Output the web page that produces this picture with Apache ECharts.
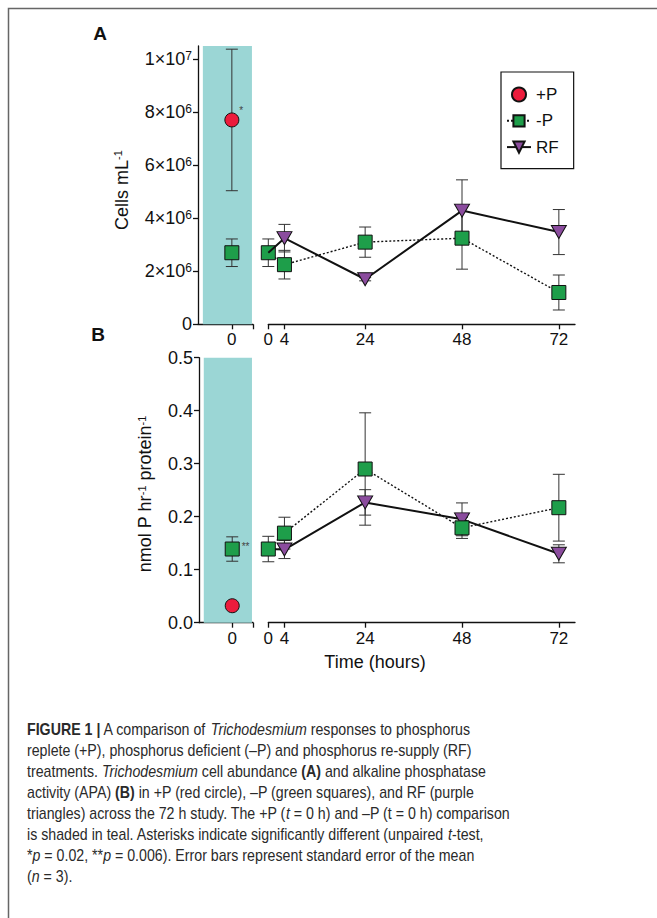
<!DOCTYPE html>
<html>
<head>
<meta charset="utf-8">
<script src="https://cdn.jsdelivr.net/npm/echarts@6/dist/echarts.min.js"></script>
<style>
html, body { margin: 0; padding: 0; background: #fff; }
#main { width: 657px; height: 918px; }
</style>
</head>
<body>
<div id="main"></div>
<script>
// time points (hours)
var ctrlTime = [0];
var hours = [0, 4, 24, 48, 72];
var hourTicks = [0, 4, 24, 48, 72];

// panel A: cells per mL (mean and standard error)
var cellsTicks = [0, 2e6, 4e6, 6e6, 8e6, 1e7];
var cellsPlusP = [7.71e6];
var cellsPlusPSe = [2.67e6];
var cellsMinusP0 = [2.70e6];
var cellsMinusP0Se = [0.52e6];
var cellsMinusP = [2.70e6, 2.25e6, 3.10e6, 3.25e6, 1.20e6];
var cellsMinusPSe = [0.52e6, 0.54e6, 0.57e6, 1.17e6, 0.66e6];
var cellsRF = [2.70e6, 3.25e6, 1.70e6, 4.29e6, 3.48e6];
var cellsRFSe = [null, 0.52e6, 0.06e6, 1.16e6, 0.85e6];

// panel B: nmol P hr-1 protein-1 (mean and standard error)
var apaTicks = [0, 0.1, 0.2, 0.3, 0.4, 0.5];
var apaPlusP = [0.032];
var apaPlusPSe = [0.004];
var apaMinusP0 = [0.139];
var apaMinusP0Se = [0.023];
var apaMinusP = [0.139, 0.169, 0.290, 0.179, 0.217];
var apaMinusPSe = [0.024, 0.030, 0.106, 0.020, 0.063];
var apaRF = [0.139, 0.138, 0.227, 0.195, 0.130];
var apaRFSe = [null, 0.017, 0.024, 0.031, 0.017];

var captionLines = [
    '{b|FIGURE 1 |} A comparison of {i|Trichodesmium} responses to phosphorus',
    'replete (+P), phosphorus deficient (\u2013P) and phosphorus re-supply (RF)',
    'treatments. {i|Trichodesmium} cell abundance {b|(A)} and alkaline phosphatase',
    'activity (APA) {b|(B)} in +P (red circle), \u2013P (green squares), and RF (purple',
    'triangles) across the 72 h study. The +P ({i|t} = 0 h) and \u2013P (t = 0 h) comparison',
    'is shaded in teal. Asterisks indicate significantly different (unpaired {i|t}-test,',
    '*{i|p} = 0.02, **{i|p} = 0.006). Error bars represent standard error of the mean',
    '({i|n} = 3).'
];

var RED = '#EC1C3C', GREEN = '#1E9E4A', PURPLE = '#8B4C9E', TEAL = '#9BD6D5', INK = '#111';
var FONT = 'Liberation Sans';

function pts(xs, ys) {
    var out = [];
    for (var i = 0; i < xs.length; i++) out.push([xs[i], ys[i]]);
    return out;
}
function errs(xs, ys, se) {
    var out = [];
    for (var i = 0; i < xs.length; i++) {
        if (se[i] == null) continue;
        out.push([xs[i], ys[i] - se[i], ys[i] + se[i]]);
    }
    return out;
}
function rfPts(xs, ys) {
    // first RF point is the -P t=0 value, drawn without a marker
    var out = [];
    for (var i = 0; i < xs.length; i++) {
        out.push(i === 0 ? { value: [xs[i], ys[i]], symbol: 'none' } : [xs[i], ys[i]]);
    }
    return out;
}

function errRender(params, api) {
    var x = api.value(0);
    var top = api.coord([x, api.value(2)]);
    var bot = api.coord([x, api.value(1)]);
    var w = 6;
    var st = { stroke: '#333', lineWidth: 1 };
    return {
        type: 'group',
        children: [
            { type: 'line', shape: { x1: top[0], y1: top[1], x2: bot[0], y2: bot[1] }, style: st },
            { type: 'line', shape: { x1: top[0] - w, y1: top[1], x2: top[0] + w, y2: top[1] }, style: st },
            { type: 'line', shape: { x1: bot[0] - w, y1: bot[1], x2: bot[0] + w, y2: bot[1] }, style: st }
        ]
    };
}

function errSeries(xi, data) {
    return {
        type: 'custom', xAxisIndex: xi, yAxisIndex: xi, renderItem: errRender,
        data: data, encode: { x: 0, y: [1, 2] }, z: 1, silent: true, clip: false
    };
}

function sciLabel(v) {
    if (v === 0) return '0';
    var e = Math.floor(Math.log10(v) + 1e-9);
    var m = Math.round(v / Math.pow(10, e));
    return m + '\u00d710{sup|' + e + '}';
}

var lineAx = { show: true, onZero: false, lineStyle: { color: INK, width: 1.3 } };
var tickSt = { color: INK, width: 1.3 };
var lblSt = { fontSize: 17, color: INK, fontFamily: FONT };
var ylblSt = { fontSize: 18, color: INK, fontFamily: FONT };
var mark = function (c) { return { color: c, borderColor: INK, borderWidth: 1, opacity: 1 }; };

function xSeg1(gi) {
    return {
        gridIndex: gi, type: 'value', min: -1.6, max: 1,
        axisLine: lineAx,
        axisTick: { show: true, length: 5, lineStyle: tickSt, customValues: [0, 1] },
        axisLabel: Object.assign({ customValues: ctrlTime, margin: 7 }, lblSt),
        splitLine: { show: false }
    };
}
function xSeg2(gi) {
    return {
        gridIndex: gi, type: 'value', min: 0, max: 76,
        axisLine: lineAx,
        axisTick: { show: true, length: 5, lineStyle: tickSt, customValues: hourTicks },
        axisLabel: Object.assign({ customValues: hourTicks, margin: 7 }, lblSt),
        splitLine: { show: false }
    };
}

var chart = echarts.init(document.getElementById('main'), null, { renderer: 'svg' });

chart.setOption({
    backgroundColor: '#fff',
    animation: false,
    textStyle: { fontFamily: FONT },
    grid: [
        { left: 198, top: 46, width: 55, height: 278.3 },
        { left: 268.3, top: 46, width: 306.7, height: 278.3 },
        { left: 199, top: 357.7, width: 54, height: 265 },
        { left: 268.3, top: 357.7, width: 306.7, height: 265 }
    ],
    xAxis: [xSeg1(0), xSeg2(1), xSeg1(2), xSeg2(3)],
    yAxis: [
        {
            gridIndex: 0, type: 'value', min: 0, max: 1.05e7,
            axisLine: lineAx,
            axisTick: { show: true, length: 5, lineStyle: tickSt, customValues: cellsTicks },
            axisLabel: Object.assign({
                customValues: cellsTicks, margin: 6, formatter: sciLabel,
                rich: { sup: { fontSize: 12, lineHeight: 12, verticalAlign: 'top', color: INK, fontFamily: FONT } }
            }, ylblSt),
            splitLine: { show: false }
        },
        { gridIndex: 1, type: 'value', min: 0, max: 1.05e7, show: false },
        {
            gridIndex: 2, type: 'value', min: 0, max: 0.5,
            axisLine: lineAx,
            axisTick: { show: true, length: 5, lineStyle: tickSt, customValues: apaTicks },
            axisLabel: Object.assign({
                customValues: apaTicks, margin: 6,
                formatter: function (v) { return v.toFixed(1); }
            }, ylblSt),
            splitLine: { show: false }
        },
        { gridIndex: 3, type: 'value', min: 0, max: 0.5, show: false }
    ],
    legend: {
        data: ['+P', '-P', 'RF'],
        orient: 'vertical',
        left: 501, top: 72,
        itemWidth: 24, itemHeight: 14, itemGap: 9.3,
        padding: [14, 15, 13, 5],
        borderColor: INK, borderWidth: 1.2, borderRadius: 0,
        selectedMode: false,
        textStyle: { fontSize: 17, color: INK, fontFamily: FONT }
    },
    series: [
        // panel A, t = 0 comparison
        errSeries(0, errs(ctrlTime, cellsPlusP, cellsPlusPSe)),
        errSeries(0, errs(ctrlTime, cellsMinusP0, cellsMinusP0Se)),
        {
            name: '+P', type: 'scatter', xAxisIndex: 0, yAxisIndex: 0, clip: false,
            symbol: 'circle', symbolSize: 14,
            itemStyle: mark(RED),
            label: { show: true, formatter: '*', position: 'right', offset: [-5, -9], fontSize: 10, color: '#444' },
            data: pts(ctrlTime, cellsPlusP),
            markArea: {
                silent: true, itemStyle: { color: TEAL, opacity: 1 },
                data: [[{ xAxis: -1.37, yAxis: 0 }, { xAxis: 0.95, yAxis: 1.05e7 }]]
            }
        },
        {
            name: '-P t0', type: 'scatter', xAxisIndex: 0, yAxisIndex: 0, clip: false,
            symbol: 'rect', symbolSize: 14,
            itemStyle: mark(GREEN),
            data: pts(ctrlTime, cellsMinusP0)
        },
        // panel A, time course
        errSeries(1, errs(hours, cellsMinusP, cellsMinusPSe)),
        errSeries(1, errs(hours, cellsRF, cellsRFSe)),
        {
            name: '-P', type: 'line', xAxisIndex: 1, yAxisIndex: 1, clip: false, z: 3,
            symbol: 'rect', symbolSize: 14, showAllSymbol: true,
            lineStyle: { color: INK, width: 1.4, type: [2, 2] },
            itemStyle: mark(GREEN),
            data: pts(hours, cellsMinusP)
        },
        {
            name: 'RF', type: 'line', xAxisIndex: 1, yAxisIndex: 1, clip: false, z: 4,
            symbol: 'triangle', symbolRotate: 180, symbolSize: [15, 13], showAllSymbol: true,
            lineStyle: { color: INK, width: 2 },
            itemStyle: mark(PURPLE),
            data: rfPts(hours, cellsRF)
        },
        // panel B, t = 0 comparison
        errSeries(2, errs(ctrlTime, apaPlusP, apaPlusPSe)),
        errSeries(2, errs(ctrlTime, apaMinusP0, apaMinusP0Se)),
        {
            name: '+P', type: 'scatter', xAxisIndex: 2, yAxisIndex: 2, clip: false,
            symbol: 'circle', symbolSize: 14,
            itemStyle: mark(RED),
            data: pts(ctrlTime, apaPlusP),
            markArea: {
                silent: true, itemStyle: { color: TEAL, opacity: 1 },
                data: [[{ xAxis: -1.37, yAxis: 0 }, { xAxis: 0.95, yAxis: 0.5 }]]
            }
        },
        {
            name: '-P t0', type: 'scatter', xAxisIndex: 2, yAxisIndex: 2, clip: false,
            symbol: 'rect', symbolSize: 14,
            itemStyle: mark(GREEN),
            label: { show: true, formatter: '**', position: 'right', offset: [-3, -3], fontSize: 10, color: '#444' },
            data: pts(ctrlTime, apaMinusP0)
        },
        // panel B, time course
        errSeries(3, errs(hours, apaMinusP, apaMinusPSe)),
        errSeries(3, errs(hours, apaRF, apaRFSe)),
        {
            name: 'RF', type: 'line', xAxisIndex: 3, yAxisIndex: 3, clip: false, z: 3,
            symbol: 'triangle', symbolRotate: 180, symbolSize: [15, 13], showAllSymbol: true,
            lineStyle: { color: INK, width: 2 },
            itemStyle: mark(PURPLE),
            data: rfPts(hours, apaRF)
        },
        {
            name: '-P', type: 'line', xAxisIndex: 3, yAxisIndex: 3, clip: false, z: 4,
            symbol: 'rect', symbolSize: 14, showAllSymbol: true,
            lineStyle: { color: INK, width: 1.4, type: [2, 2] },
            itemStyle: mark(GREEN),
            data: pts(hours, apaMinusP)
        }
    ],
    graphic: [
        {
            type: 'rect', silent: true, z: -1,
            shape: { x: 8.5, y: 8.5, width: 800, height: 1000 },
            style: { fill: 'none', stroke: '#666', lineWidth: 1.5 }
        },
        { type: 'text', x: 100, y: 33, style: { text: 'A', fontSize: 19, fontWeight: 'bold', fontFamily: FONT, fill: INK, align: 'center', verticalAlign: 'middle' } },
        { type: 'text', x: 98, y: 334, style: { text: 'B', fontSize: 19, fontWeight: 'bold', fontFamily: FONT, fill: INK, align: 'center', verticalAlign: 'middle' } },
        {
            type: 'text', x: 121.7, y: 190, rotation: Math.PI / 2,
            style: {
                text: 'Cells mL{sup|-1}', fontSize: 18, fontFamily: FONT, fill: INK, align: 'center', verticalAlign: 'middle',
                rich: { sup: { fontSize: 11, lineHeight: 11, verticalAlign: 'top', fontFamily: FONT, fill: INK } }
            }
        },
        {
            type: 'text', x: 145, y: 494, rotation: Math.PI / 2,
            style: {
                text: 'nmol P hr{sup|-1} protein{sup|-1}', fontSize: 18, fontFamily: FONT, fill: INK, align: 'center', verticalAlign: 'middle',
                rich: { sup: { fontSize: 11, lineHeight: 11, verticalAlign: 'top', fontFamily: FONT, fill: INK } }
            }
        },
        { type: 'text', x: 375, y: 662, style: { text: 'Time (hours)', fontSize: 18, fontFamily: FONT, fill: INK, align: 'center', verticalAlign: 'middle' } },
        {
            type: 'group', x: 27, y: 729.3, scaleX: 0.835,
            children: captionLines.map(function (t, k) {
                return {
                    type: 'text', x: 0, y: k * 20.95,
                    style: {
                        text: t, fontSize: 17, fontFamily: FONT, fill: '#2a2a2a', verticalAlign: 'middle',
                        rich: {
                            b: { fontSize: 17, fontFamily: FONT, fontWeight: 'bold', fill: '#2a2a2a' },
                            i: { fontSize: 17, fontFamily: FONT, fontStyle: 'italic', fill: '#2a2a2a' }
                        }
                    }
                };
            })
        }
    ]
});
</script>
</body>
</html>
